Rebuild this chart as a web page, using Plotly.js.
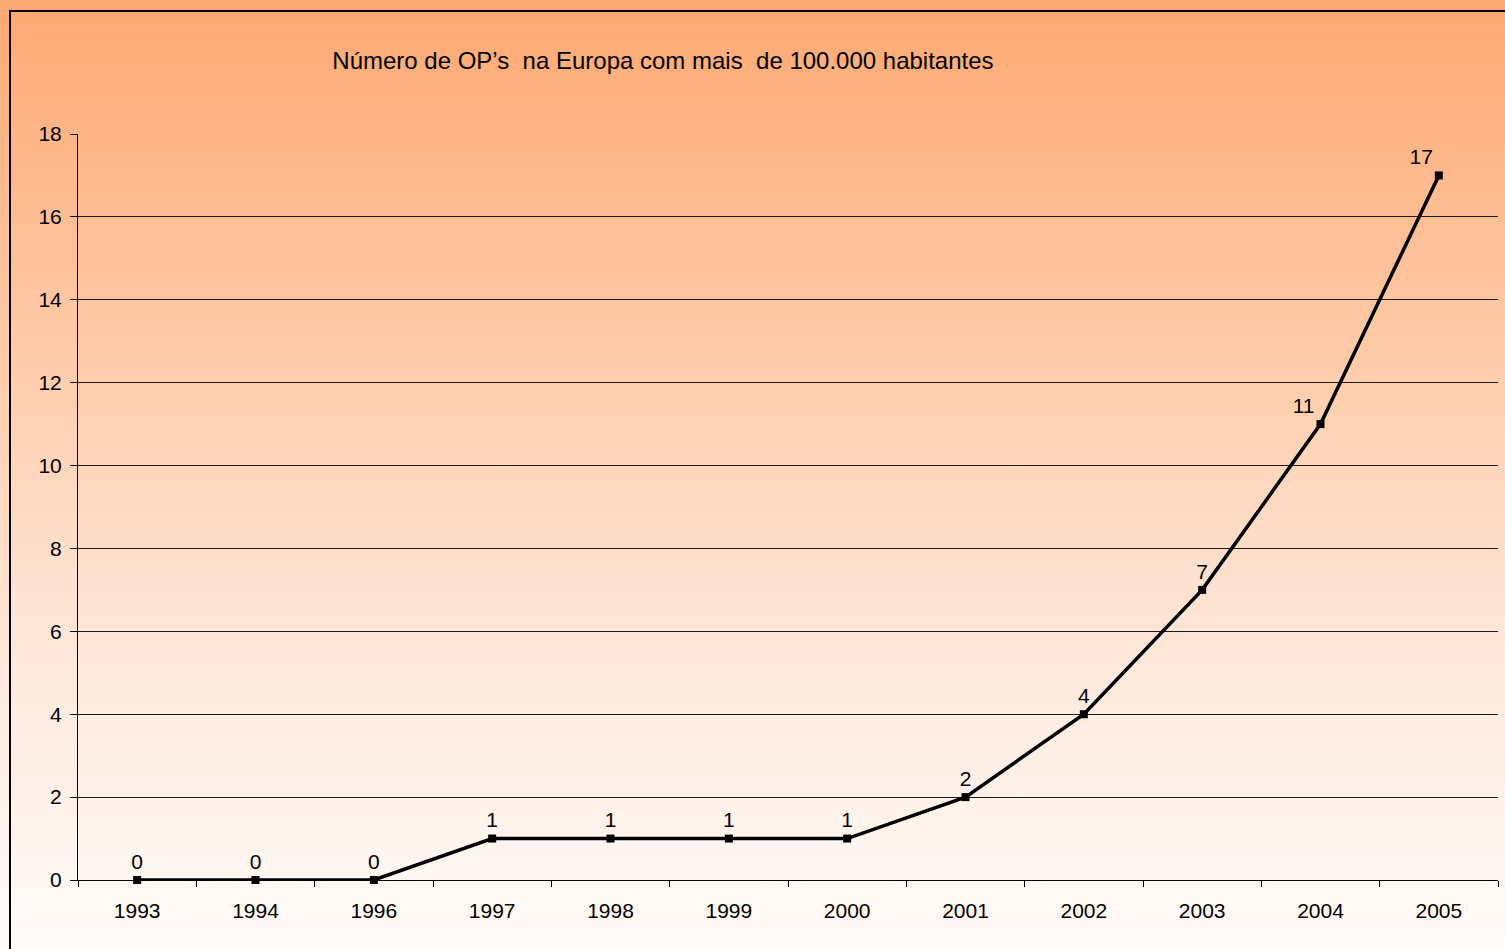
<!DOCTYPE html>
<html>
<head>
<meta charset="utf-8">
<script src="https://cdn.plot.ly/plotly-3.0.1.min.js"></script>
<style>
  html, body { margin:0; padding:0; width:1505px; height:949px; overflow:hidden; }
  body { background: linear-gradient(to bottom, #FDA871 0%, #FEC9A6 35%, #FEE9DC 70%, #FFFBF9 100%); position:relative; }
  #frame { position:absolute; left:9px; top:10px; width:1600px; height:1100px; border:2px solid #000; box-sizing:border-box; pointer-events:none; z-index:2; }
  #chart { position:absolute; left:0; top:0; width:1505px; height:949px; }
</style>
</head>
<body>
<div id="frame"></div>
<div id="chart"></div>
<script>
const years = ['1993','1994','1996','1997','1998','1999','2000','2001','2002','2003','2004','2005'];
const counts = [0,0,0,1,1,1,1,2,4,7,11,17];
const labelPositions = ['top center','top center','top center','top center','top center','top center','top center','top center','top center','top center','top left','top left'];
const chartTitle = 'Número de OP’s\u00A0 na Europa com mais\u00A0 de 100.000 habitantes';

const trace = {
  x: years,
  y: counts,
  type: 'scatter',
  mode: 'lines+markers+text',
  line: {color:'#000', width:3.5},
  marker: {symbol:'square', size:8, color:'#000'},
  text: counts.map(String),
  textposition: labelPositions,
  textfont: {family:'Liberation Sans, Arial, sans-serif', size:21, color:'#000'},
  cliponaxis: false,
  hoverinfo: 'skip'
};

const layout = {
  width:1505, height:949,
  paper_bgcolor:'rgba(0,0,0,0)',
  plot_bgcolor:'rgba(0,0,0,0)',
  margin:{l:78, r:7, t:134, b:69, pad:0},
  showlegend:false,
  font:{family:'Liberation Sans, Arial, sans-serif', size:21, color:'#000'},
  title:{
    text: chartTitle,
    font:{family:'Liberation Sans, Arial, sans-serif', size:24, color:'#000'},
    xref:'container', yref:'container', x:0.4405, xanchor:'center', y:1-61/949, yanchor:'middle'
  },
  xaxis:{
    type:'category',
    range:[-0.5, 11.5],
    autorange:false,
    showgrid:false,
    showline:true, linecolor:'#000', linewidth:1,
    ticks:'outside', ticklen:6, tickcolor:'#000', tickwidth:1,
    tickson:'boundaries',
    tickfont:{size:21},
    ticklabelstandoff:12,
    zeroline:false,
    fixedrange:true
  },
  yaxis:{
    range:[0,18], autorange:false, dtick:2, tick0:0,
    showgrid:true, gridcolor:'#1a1a1a', gridwidth:1,
    showline:true, linecolor:'#000', linewidth:1,
    ticks:'outside', ticklen:7, tickcolor:'#000', tickwidth:1,
    tickfont:{size:21},
    ticklabelstandoff:4,
    zeroline:false,
    fixedrange:true
  }
};

Plotly.newPlot('chart', [trace], layout, {staticPlot:true, displayModeBar:false});
</script>
</body>
</html>
